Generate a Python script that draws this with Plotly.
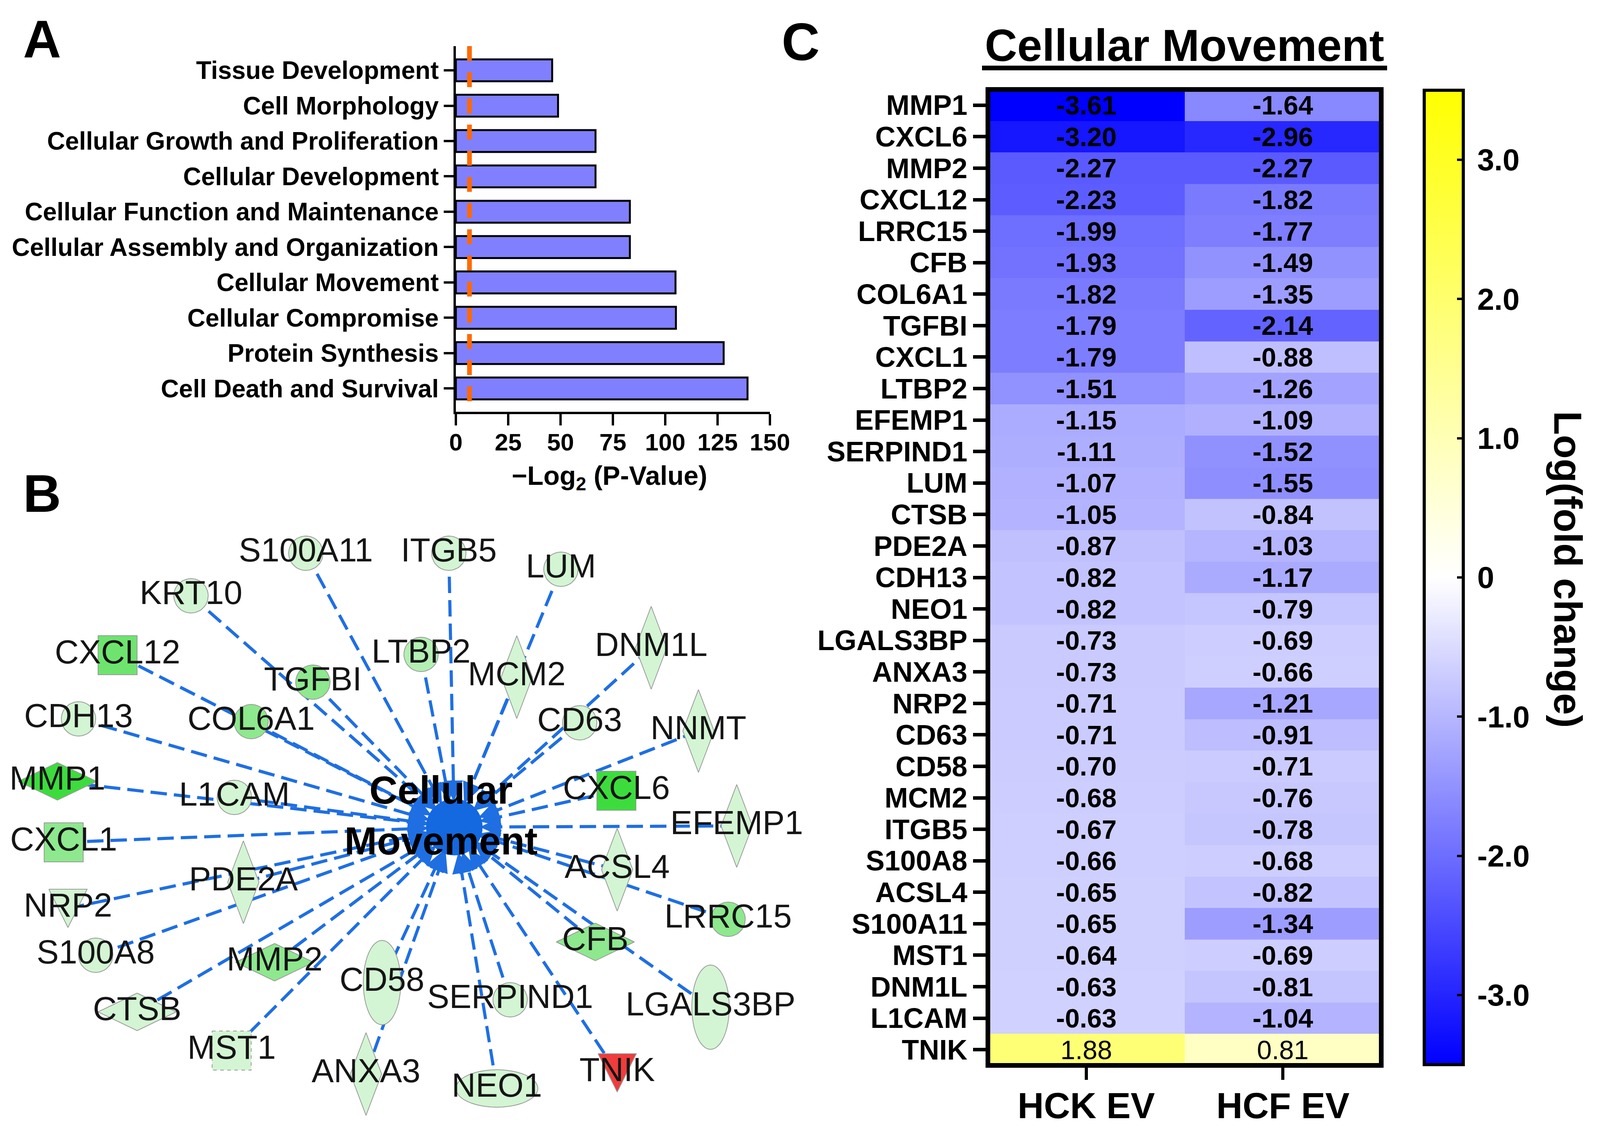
import math
import plotly.graph_objects as go

W, H = 4100, 2900
FONT = "Liberation Sans, Arial, Helvetica, sans-serif"

# ---------------- Panel A data ----------------
functions = ["Tissue Development", "Cell Morphology", "Cellular Growth and Proliferation",
             "Cellular Development", "Cellular Function and Maintenance",
             "Cellular Assembly and Organization", "Cellular Movement",
             "Cellular Compromise", "Protein Synthesis", "Cell Death and Survival"]
neg_log2_p = [46.0, 48.8, 66.7, 66.7, 83.1, 83.1, 104.9, 105.1, 127.9, 139.3]
threshold = 6.5
a_ticks = [0, 25, 50, 75, 100, 125, 150]

# ---------------- Panel C data ----------------
genes = ["MMP1", "CXCL6", "MMP2", "CXCL12", "LRRC15", "CFB", "COL6A1", "TGFBI", "CXCL1",
         "LTBP2", "EFEMP1", "SERPIND1", "LUM", "CTSB", "PDE2A", "CDH13", "NEO1",
         "LGALS3BP", "ANXA3", "NRP2", "CD63", "CD58", "MCM2", "ITGB5", "S100A8",
         "ACSL4", "S100A11", "MST1", "DNM1L", "L1CAM", "TNIK"]
hck_ev = [-3.61, -3.20, -2.27, -2.23, -1.99, -1.93, -1.82, -1.79, -1.79, -1.51, -1.15,
          -1.11, -1.07, -1.05, -0.87, -0.82, -0.82, -0.73, -0.73, -0.71, -0.71, -0.70,
          -0.68, -0.67, -0.66, -0.65, -0.65, -0.64, -0.63, -0.63, 1.88]
hcf_ev = [-1.64, -2.96, -2.27, -1.82, -1.77, -1.49, -1.35, -2.14, -0.88, -1.26, -1.09,
          -1.52, -1.55, -0.84, -1.03, -1.17, -0.79, -0.69, -0.66, -1.21, -0.91, -0.71,
          -0.76, -0.78, -0.68, -0.82, -1.34, -0.69, -0.81, -1.04, 0.81]
columns = ["HCK EV", "HCF EV"]
cb_ticks = [-3, -2, -1, 0, 1, 2, 3]
cb_ticktext = ["-3.0", "-2.0", "-1.0", "0", "1.0", "2.0", "3.0"]

# ---------------- Panel B network data (layout coordinates) ----------------
hub_name = "Cellular<br>Movement"
hub_x, hub_y = 1163, 2117
node_names = ["S100A11", "ITGB5", "LUM", "KRT10", "CXCL12", "LTBP2", "MCM2", "DNM1L",
              "TGFBI", "CDH13", "COL6A1", "CD63", "NNMT", "MMP1", "L1CAM", "CXCL6",
              "EFEMP1", "CXCL1", "PDE2A", "ACSL4", "NRP2", "LRRC15", "S100A8", "MMP2",
              "CFB", "CD58", "SERPIND1", "LGALS3BP", "CTSB", "MST1", "ANXA3", "NEO1", "TNIK"]
node_x = [783, 1149, 1436, 489, 301, 1078, 1323, 1667, 801, 201, 643, 1484, 1788, 147,
          600, 1578, 1886, 163, 623, 1580, 174, 1864, 245, 703, 1524, 978, 1306, 1819,
          351, 593, 937, 1272, 1580]
node_y = [1416, 1416, 1457, 1525, 1677, 1675, 1733, 1658, 1746, 1840, 1847, 1850, 1871,
          2000, 2041, 2024, 2114, 2156, 2258, 2226, 2325, 2353, 2445, 2463, 2411, 2515,
          2559, 2578, 2590, 2689, 2749, 2786, 2746]
node_shape = ["circle", "circle", "circle", "circle", "square", "circle", "diamond_tall",
              "diamond_tall", "circle", "circle", "circle", "circle", "diamond_tall",
              "diamond_wide", "circle", "square", "diamond_tall", "square", "diamond_tall",
              "diamond_tall", "triangle_down", "circle", "circle", "diamond_wide",
              "diamond_wide", "ellipse_tall", "circle", "ellipse_tall", "diamond_wide",
              "square_dashed", "diamond_tall", "ellipse_wide", "triangle_down"]
node_level = ["light", "light", "light", "light", "strong", "pale", "light", "light",
              "mid", "light", "mid", "light", "light", "bright", "light", "bright",
              "light", "mid", "light", "light", "light", "mid", "light", "mid",
              "mid", "light", "light", "light", "light", "light", "light", "light", "up"]

# ---------------- styles ----------------
LEVEL_COLORS = {"light": "#d3f5d3", "pale": "#b3efb3", "mid": "#8ee88e",
                "strong": "#6ee46e", "bright": "#3ddc3d", "up": "#f03c3c"}
EDGE_COLOR = "#1f6fe3"
HUB_R = 72


def px(x):
    return x / W


def py(y):
    return 1 - y / H


def ellipse(cx, cy, rx, ry, n=48):
    xs = [cx + rx * math.cos(2 * math.pi * k / n) for k in range(n + 1)]
    ys = [cy + ry * math.sin(2 * math.pi * k / n) for k in range(n + 1)]
    return xs, ys


def node_poly(cx, cy, shape):
    if shape == "circle":
        return ellipse(cx, cy, 44, 44)
    if shape == "ellipse_tall":
        return ellipse(cx, cy, 48, 108)
    if shape == "ellipse_wide":
        return ellipse(cx, cy, 105, 48)
    if shape in ("square", "square_dashed"):
        h = 50
        return [cx - h, cx + h, cx + h, cx - h, cx - h], [cy - h, cy - h, cy + h, cy + h, cy - h]
    if shape == "diamond_tall":
        a, b = 40, 106
        return [cx, cx + a, cx, cx - a, cx], [cy - b, cy, cy + b, cy, cy - b]
    if shape == "diamond_wide":
        a, b = 100, 48
        return [cx, cx + a, cx, cx - a, cx], [cy - b, cy, cy + b, cy, cy - b]
    if shape == "triangle_down":
        a = 49
        return [cx - a, cx + a, cx, cx - a], [cy - a, cy - a, cy + a, cy - a]
    return [cx], [cy]


fig = go.Figure()

# ---------------- Panel A ----------------
ypos = list(range(len(functions)))
fig.add_trace(go.Bar(x=neg_log2_p, y=ypos, orientation="h", width=0.62,
                     marker=dict(color="#8080ff", line=dict(color="black", width=5)),
                     xaxis="x", yaxis="y", hoverinfo="skip"))
fig.add_trace(go.Scatter(x=[threshold, threshold], y=[-0.686, 9.66], mode="lines",
                         line=dict(color="#ff6a00", width=12, dash="38px,29px"),
                         xaxis="x", yaxis="y", hoverinfo="skip"))

# ---------------- Panel C ----------------
z = [[h, f] for h, f in zip(hck_ev, hcf_ev)]
txt = [[("<b>%.2f</b>" % v) if v < 0 else ("%.2f" % v) for v in row] for row in z]
fig.add_trace(go.Heatmap(
    z=z, x=columns, y=genes, text=txt, texttemplate="%{text}",
    textfont=dict(size=68, color="black", family=FONT),
    colorscale=[[0, "#0000ff"], [0.5, "#ffffff"], [1, "#ffff00"]],
    zmin=-3.5, zmax=3.5, xaxis="x2", yaxis="y2", hoverinfo="skip",
    colorbar=dict(x=px(3646), xanchor="left", xpad=0, ypad=0,
                  y=py((229 + 2727) / 2), yanchor="middle",
                  len=2494, lenmode="pixels", thickness=100, thicknessmode="pixels",
                  outlinewidth=8, outlinecolor="black",
                  ticks="inside", ticklen=20, tickwidth=6, tickcolor="black",
                  tickvals=cb_ticks, ticktext=["\u2009" + t for t in cb_ticktext],
                  tickfont=dict(size=78, family=FONT, color="black", weight="bold"))))

# ---------------- Panel B ----------------
ex, ey, ax_, ay_ = [], [], [], []
for nx, ny in zip(node_x, node_y):
    dx, dy = nx - hub_x, ny - hub_y
    d = math.hypot(dx, dy)
    ux, uy = dx / d, dy / d
    ex += [nx, hub_x + ux * (HUB_R + 30), None]
    ey += [ny, hub_y + uy * (HUB_R + 30), None]
    tipx, tipy = hub_x + ux * (HUB_R - 4), hub_y + uy * (HUB_R - 4)
    bx, by = hub_x + ux * (HUB_R + 46), hub_y + uy * (HUB_R + 46)
    vx, vy = -uy, ux
    ax_ += [tipx, bx + vx * 23, bx - vx * 23, tipx, None]
    ay_ += [tipy, by + vy * 23, by - vy * 23, tipy, None]

fig.add_trace(go.Scatter(x=ex, y=ey, mode="lines",
                         line=dict(color=EDGE_COLOR, width=8, dash="42px,18px"),
                         xaxis="x3", yaxis="y3", hoverinfo="skip"))
fig.add_trace(go.Scatter(x=ax_, y=ay_, mode="lines", fill="toself", fillcolor=EDGE_COLOR,
                         line=dict(color=EDGE_COLOR, width=2),
                         xaxis="x3", yaxis="y3", hoverinfo="skip"))
hx, hy = ellipse(hub_x, hub_y, HUB_R, HUB_R)
fig.add_trace(go.Scatter(x=hx, y=hy, mode="lines", fill="toself", fillcolor="#1468e0",
                         line=dict(color="#1468e0", width=1),
                         xaxis="x3", yaxis="y3", hoverinfo="skip"))

for nx, ny, shp, lev in zip(node_x, node_y, node_shape, node_level):
    xs, ys = node_poly(nx, ny, shp)
    fig.add_trace(go.Scatter(
        x=xs, y=ys, mode="lines", fill="toself", fillcolor=LEVEL_COLORS[lev],
        line=dict(color="#9a9a9a", width=2, dash="dash" if shp == "square_dashed" else "solid"),
        xaxis="x3", yaxis="y3", hoverinfo="skip"))

fig.add_trace(go.Scatter(x=node_x, y=node_y, mode="text", text=node_names,
                         textposition="middle center",
                         textfont=dict(size=85, family=FONT, color="#151515"),
                         xaxis="x3", yaxis="y3", hoverinfo="skip", cliponaxis=False))
fig.add_trace(go.Scatter(x=[hub_x - 34], y=[hub_y - 20], mode="text",
                         text=["<b>" + hub_name + "</b>"], textposition="middle center",
                         textfont=dict(size=100, family=FONT, color="black"),
                         xaxis="x3", yaxis="y3", hoverinfo="skip", cliponaxis=False))

# ---------------- layout ----------------
axis_common = dict(showgrid=False, zeroline=False, automargin=False)
fig.update_layout(
    width=W, height=H, margin=dict(l=0, r=0, t=0, b=0, pad=0, autoexpand=False),
    autosize=False,
    paper_bgcolor="white", plot_bgcolor="rgba(0,0,0,0)", showlegend=False,
    font=dict(family=FONT, color="black"),
    xaxis=dict(domain=[px(1167), px(1971)], range=[0, 150], anchor="y",
               tickvals=a_ticks, ticks="outside", ticklen=29, tickwidth=6, tickcolor="black",
               showline=True, linewidth=6, linecolor="black", ticklabelstandoff=-10,
               tickfont=dict(size=62, family=FONT, color="black", weight="bold"), **axis_common),
    yaxis=dict(domain=[py(1054), py(118)], range=[9.66, -0.686], anchor="x",
               tickvals=ypos, ticktext=functions, ticks="outside", ticklen=25, tickwidth=6,
               tickcolor="black", showline=True, linewidth=6, linecolor="black",
               tickfont=dict(size=64, family=FONT, color="black", weight="bold"), **axis_common),
    xaxis2=dict(domain=[px(2529), px(3536)], anchor="y2", ticks="outside", ticklen=36,
                tickwidth=8, tickcolor="black", showline=False, ticklabelstandoff=-14,
                tickmode="array", tickvals=columns, ticktext=columns,
                tickfont=dict(size=93, family=FONT, color="black", weight="bold"), **axis_common),
    yaxis2=dict(domain=[py(2727), py(229)], anchor="x2", autorange="reversed",
                ticks="outside", ticklen=37, tickwidth=9, tickcolor="black", showline=False,
                tickmode="array", tickvals=genes, ticktext=genes,
                tickfont=dict(size=72, family=FONT, color="black", weight="bold"), **axis_common),
    xaxis3=dict(domain=[0, px(2100)], range=[0, 2100], anchor="y3", visible=False, **axis_common),
    yaxis3=dict(domain=[0, py(1290)], range=[2900, 1290], anchor="x3", visible=False, **axis_common),
)

# heatmap border and title underline
fig.add_shape(type="rect", xref="x2 domain", yref="y2 domain", x0=0, x1=1, y0=0, y1=1,
              line=dict(color="black", width=12))
fig.add_shape(type="line", xref="paper", yref="paper", x0=px(2514), x1=px(3551),
              y0=py(174), y1=py(174), line=dict(color="black", width=12))

annots = [
    dict(text="<b>A</b>", x=px(108), y=py(101), size=135),
    dict(text="<b>B</b>", x=px(108), y=py(1263), size=135),
    dict(text="<b>C</b>", x=px(2050), y=py(107), size=135),
    dict(text="<b>Cellular Movement</b>", x=px(3032), y=py(116), size=115),
    dict(text="<b>\u2212Log<sub>2</sub> (P-Value)</b>", x=px(1560), y=py(1222), size=68),
]
for a in annots:
    fig.add_annotation(text=a["text"], x=a["x"], y=a["y"], xref="paper", yref="paper",
                       xanchor="center", yanchor="middle", showarrow=False,
                       font=dict(size=a["size"], family=FONT, color="black"))
fig.add_annotation(text="<b>Log(fold change)</b>", x=px(4014), y=py(1457), xref="paper",
                   yref="paper", xanchor="center", yanchor="middle", showarrow=False,
                   textangle=90, font=dict(size=100, family=FONT, color="black"))

fig.write_html("out.html", config={"displayModeBar": False},
               post_script="document.documentElement.style.overflow='hidden';"
                           "document.body.style.margin='0px';"
                           "document.body.style.overflow='hidden';")
